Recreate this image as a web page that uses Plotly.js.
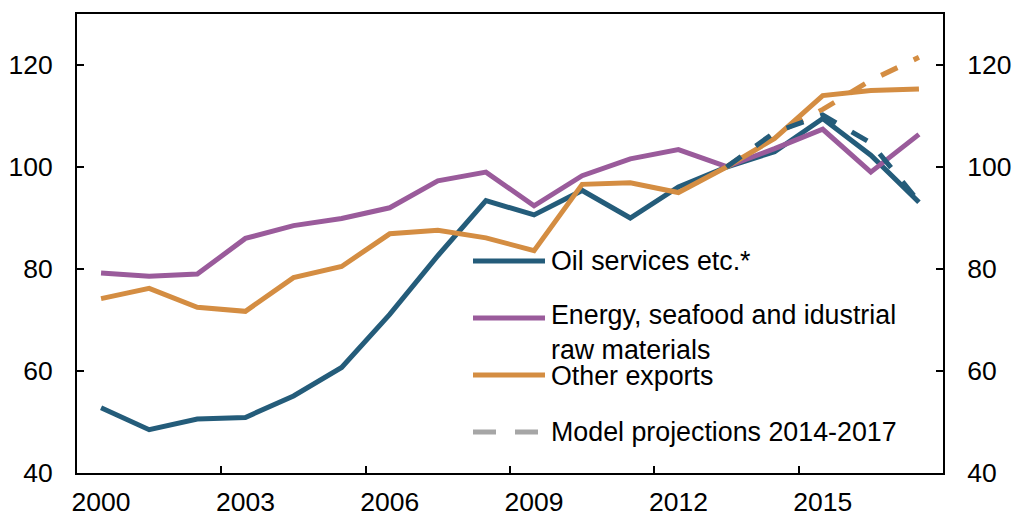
<!DOCTYPE html>
<html>
<head>
<meta charset="utf-8">
<script src="https://cdn.plot.ly/plotly-3.0.1.min.js"></script>
<style>
  html, body { margin: 0; padding: 0; background: #fff; }
  #chart { width: 1014px; height: 517px; }
</style>
</head>
<body>
<div id="chart"></div>
<script>
// values (index, 2013 = 100)
const years = [2000, 2001, 2002, 2003, 2004, 2005, 2006, 2007, 2008,
               2009, 2010, 2011, 2012, 2013, 2014, 2015, 2016, 2017];
const oilServices = [52.8, 48.5, 50.6, 50.9, 55.1, 60.7, 71.1, 82.6, 93.4,
                     90.6, 95.4, 90.0, 96.1, 100.0, 103.0, 109.5, 102.3, 93.1];
const energySeafood = [79.2, 78.6, 79.0, 86.0, 88.5, 89.9, 92.0, 97.3, 99.0,
                       92.4, 98.3, 101.6, 103.4, 100.1, 103.6, 107.4, 99.0, 106.4];
const otherExports = [74.2, 76.2, 72.5, 71.7, 78.3, 80.5, 86.9, 87.6, 86.1,
                      83.6, 96.6, 96.9, 95.0, 100.0, 105.6, 114.0, 115.0, 115.3];

const projYears = [2013, 2014, 2015, 2016, 2017];
const oilProjection = [100.0, 106.8, 110.2, 104.7, 93.2];
const otherProjection = [100.0, 106.4, 111.3, 117.0, 121.5];

const tickYears = [2000, 2003, 2006, 2009, 2012, 2015];
const tickBounds = [2002.5, 2005.5, 2008.5, 2011.5, 2014.5];
const yTicks = [40, 60, 80, 100, 120];

const legendNames = ["Oil services etc.*",
                     "Energy, seafood and idustrial<br>raw materials",
                     "Other exports",
                     "Model projections 2014-2017"];

const BLUE = "#245c7a";
const PURPLE = "#9a5b9b";
const ORANGE = "#d48d42";
const GREY = "#a6a6a6";
const FONT = "Arial, 'Liberation Sans', sans-serif";
const SIZE = 26.5;
const LEGEND_SIZE = 26.8;

function solid(y, color) {
    return {x: years, y: y, mode: "lines", line: {color: color, width: 5}, showlegend: false};
}
// the projections sit on the twin axes (same ranges) so those axes get drawn
function dashed(y, color, xa, ya) {
    return {x: projYears, y: y, mode: "lines", xaxis: xa, yaxis: ya,
            line: {color: color, width: 5, dash: "18px,18px"}, showlegend: false};
}

let data = [
    solid(oilServices, BLUE),
    solid(energySeafood, PURPLE),
    solid(otherExports, ORANGE),
    dashed(oilProjection, BLUE, "x2", "y"),
    dashed(otherProjection, ORANGE, "x", "y2")
];

// plot area in pixels: left 77, right 943, top 14, bottom 473
const L = 77, R = 943, T = 14, B = 473;
function px(x) { return (x - L) / (R - L); }
function py(y) { return (B - y) / (B - T); }

// hand-built legend, the keys are not data marks
const keyRows = [261, 318, 375, 432];
const keyColors = [BLUE, PURPLE, ORANGE, GREY];
let shapes = keyRows.map((row, i) => ({
    type: "line", xref: "paper", yref: "paper",
    x0: px(473), x1: px(i === 3 ? 538 : 545), y0: py(row), y1: py(row),
    line: {color: keyColors[i], width: 5, dash: i === 3 ? "23px,19px" : "solid"}
}));
let textRows = [261, 332, 376, 432];
let annotations = legendNames.map((name, i) => ({
    xref: "paper", yref: "paper", x: px(549), y: py(textRows[i]),
    xanchor: "left", yanchor: "middle", align: "left", showarrow: false,
    text: name, font: {family: FONT, size: LEGEND_SIZE, color: "#000"}
}));

const yAxisBase = {
    range: [40, 130],
    tickvals: yTicks,
    ticks: "inside",
    ticklen: 7,
    tickwidth: 2,
    tickcolor: "#000",
    showgrid: false,
    zeroline: false,
    showline: true,
    linecolor: "#000",
    linewidth: 2,
    ticklabelstandoff: 17
};

let layout = {
    width: 1014,
    height: 517,
    margin: {l: L, r: 1014 - R, t: T, b: 517 - B},
    paper_bgcolor: "#fff",
    plot_bgcolor: "#fff",
    showlegend: false,
    font: {family: FONT, size: SIZE, color: "#000"},
    xaxis: {
        range: [1999.5, 2017.5],
        tickvals: tickYears,
        ticktext: tickYears.map(String),
        ticks: "",
        showgrid: false,
        zeroline: false,
        showline: true,
        mirror: true,
        linecolor: "#000",
        linewidth: 2,
        ticklabelstandoff: 4
    },
    xaxis2: {
        overlaying: "x",
        anchor: "y",
        side: "bottom",
        range: [1999.5, 2017.5],
        tickvals: tickBounds,
        ticks: "inside",
        ticklen: 7,
        tickwidth: 2,
        tickcolor: "#000",
        showticklabels: false,
        showgrid: false,
        zeroline: false,
        showline: false
    },
    yaxis: Object.assign({}, yAxisBase),
    yaxis2: Object.assign({}, yAxisBase, {overlaying: "y", side: "right", anchor: "x"}),
    shapes: shapes,
    annotations: annotations
};

Plotly.newPlot("chart", data, layout, {displayModeBar: false, staticPlot: true});
</script>
</body>
</html>
